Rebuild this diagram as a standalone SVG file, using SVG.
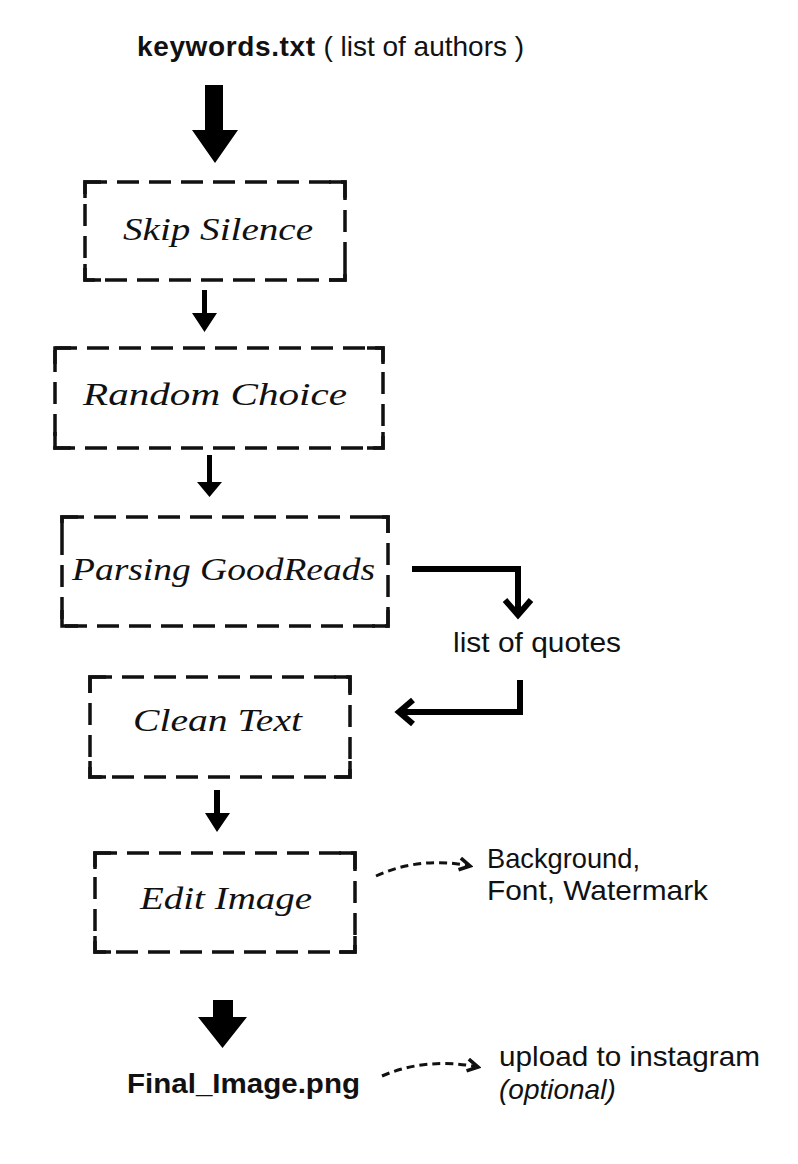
<svg xmlns="http://www.w3.org/2000/svg" width="798" height="1164" viewBox="0 0 798 1164">
<defs>
<style>
.box{fill:none;stroke:#111;stroke-width:3.5;stroke-dasharray:22 10;}
.corner{fill:none;stroke:#111;stroke-width:3.5;}
.hand{font-family:"Liberation Serif","DejaVu Serif",serif;font-style:italic;font-size:32px;fill:#111;}
.lbl{font-family:"Liberation Sans",Arial,sans-serif;font-size:28px;fill:#111;}
.bold{font-weight:bold;}
.line{fill:none;stroke:#000;stroke-width:6;}
.dash{fill:none;stroke:#111;stroke-width:3;stroke-dasharray:8 5;}
</style>
<marker id="chev" viewBox="0 0 10 10" refX="8" refY="5" markerWidth="5" markerHeight="5" orient="auto" markerUnits="strokeWidth">
<path d="M1 1 L8 5 L1 9" fill="none" stroke="#111" stroke-width="2.4"/>
</marker>
</defs>
<rect width="798" height="1164" fill="#fff"/>

<g id="keywords">
<text class="lbl" x="137" y="56"><tspan class="bold" textLength="178">keywords.txt</tspan><tspan> ( list of authors )</tspan></text>
</g>

<g id="skip-silence">
<rect class="box" x="85" y="182" width="260" height="98"/>
<path class="corner" d="M85 198 V182 H101 M329 182 H345 V198 M345 264 V280 H329 M101 280 H85 V264"/>
<text class="hand" x="123" y="240" textLength="190" lengthAdjust="spacingAndGlyphs">Skip Silence</text>
</g>

<g id="random-choice">
<rect class="box" x="55" y="348" width="328" height="100"/>
<path class="corner" d="M55 364 V348 H71 M367 348 H383 V364 M383 432 V448 H367 M71 448 H55 V432"/>
<text class="hand" x="83" y="405" textLength="264" lengthAdjust="spacingAndGlyphs">Random Choice</text>
</g>

<g id="parsing-goodreads">
<rect class="box" x="62" y="517" width="326" height="109"/>
<path class="corner" d="M62 533 V517 H78 M372 517 H388 V533 M388 610 V626 H372 M78 626 H62 V610"/>
<text class="hand" x="72" y="580" textLength="303" lengthAdjust="spacingAndGlyphs">Parsing GoodReads</text>
</g>

<g id="list-of-quotes">
<text class="lbl" x="453" y="652" textLength="168" lengthAdjust="spacingAndGlyphs">list of quotes</text>
</g>

<g id="clean-text">
<rect class="box" x="90" y="677" width="260" height="100"/>
<path class="corner" d="M90 693 V677 H106 M334 677 H350 V693 M350 761 V777 H334 M106 777 H90 V761"/>
<text class="hand" x="133" y="731" textLength="169" lengthAdjust="spacingAndGlyphs">Clean Text</text>
</g>

<g id="edit-image">
<rect class="box" x="95" y="853" width="260" height="99"/>
<path class="corner" d="M95 869 V853 H111 M339 853 H355 V869 M355 936 V952 H339 M111 952 H95 V936"/>
<text class="hand" x="140" y="909" textLength="172" lengthAdjust="spacingAndGlyphs">Edit Image</text>
</g>

<g id="edit-options">
<text class="lbl" x="487" y="868" textLength="153" lengthAdjust="spacingAndGlyphs">Background,</text>
<text class="lbl" x="487" y="900" textLength="221" lengthAdjust="spacingAndGlyphs">Font, Watermark</text>
</g>

<g id="final-image">
<text class="lbl bold" x="127" y="1093" textLength="233" lengthAdjust="spacingAndGlyphs">Final_Image.png</text>
</g>

<g id="upload">
<text class="lbl" x="499" y="1066" textLength="261" lengthAdjust="spacingAndGlyphs">upload to instagram</text>
<text class="lbl" x="499" y="1099" font-style="italic">(optional)</text>
</g>

<g id="connectors">
<!-- big arrow top -->
<polygon points="205,85 223,85 223,130 238,130 215,163 192,130 205,130" fill="#000"/>
<!-- small arrows -->
<polygon points="202,290 207,290 207,313 217,313 204.5,332 192,313 202,313" fill="#000"/>
<polygon points="207,455 212,455 212,482 222,482 209.5,497 197,482 207,482" fill="#000"/>
<polygon points="214,790 220,790 220,813 230,813 217,832 205,813 214,813" fill="#000"/>
<!-- elbow to list of quotes -->
<path class="line" d="M412 569 H518 V612"/>
<path d="M505 600 L518 615 L531 600" fill="none" stroke="#000" stroke-width="6"/>
<!-- elbow to clean text -->
<path class="line" d="M520 680 V712 H402"/>
<path d="M413 700 L399 712 L413 724" fill="none" stroke="#000" stroke-width="6"/>
<!-- dashed curves -->
<path class="dash" d="M376 876 Q420 856 470 866" marker-end="url(#chev)"/>
<path class="dash" d="M382 1076 Q426 1057 478 1067" marker-end="url(#chev)"/>
<!-- big arrow bottom -->
<polygon points="213,1000 233,1000 233,1017 247,1017 222.5,1048 198,1017 213,1017" fill="#000"/>
</g>
</svg>
